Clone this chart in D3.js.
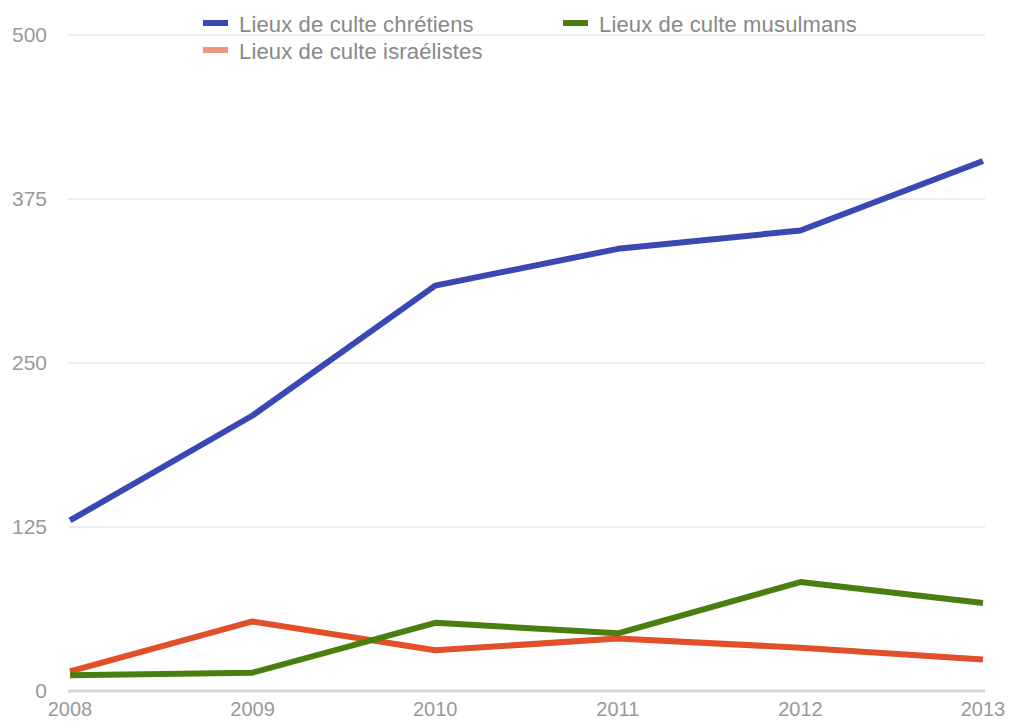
<!DOCTYPE html>
<html>
<head>
<meta charset="utf-8">
<script src="https://cdn.jsdelivr.net/npm/d3@7"></script>
<style>
  body { margin: 0; background: #fff; }
  text { font-family: "Liberation Sans", Arial, sans-serif; }
</style>
</head>
<body>
<div id="chart"></div>
<script>
// Data
const years = ["2008", "2009", "2010", "2011", "2012", "2013"];
const chretiens = [130, 210, 309, 337, 351, 404];
const musulmans = [12, 14, 52, 44, 83, 67];
const israelites = [15, 53, 31, 40, 33, 24];
const yTicks = [0, 125, 250, 375, 500];

const seriesNames = ["Lieux de culte chrétiens", "Lieux de culte musulmans", "Lieux de culte israélistes"];
const seriesColors = ["#3a48b4", "#4a7f10", "#e1502a"];

(function () {
    const width = 1010, height = 723;
    const margin = { top: 35, right: 27, bottom: 32, left: 70 };

    const svg = d3.select("#chart").append("svg")
        .attr("width", width)
        .attr("height", height);

    const x = d3.scalePoint()
        .domain(years)
        .range([margin.left, width - margin.right]);

    const y = d3.scaleLinear()
        .domain([0, 500])
        .range([height - margin.bottom, margin.top]);

    // Gridlines
    svg.append("g")
        .selectAll("line")
        .data(yTicks)
        .enter()
        .append("line")
        .attr("x1", margin.left - 2)
        .attr("x2", width - margin.right + 2)
        .attr("y1", d => y(d))
        .attr("y2", d => y(d))
        .attr("stroke", d => d === 0 ? "#d6d6d6" : "#ececec")
        .attr("stroke-width", d => d === 0 ? 3 : 2);

    // Y axis labels
    svg.append("g")
        .selectAll("text")
        .data(yTicks)
        .enter()
        .append("text")
        .attr("x", 47)
        .attr("y", d => y(d))
        .attr("dy", "0.35em")
        .attr("text-anchor", "end")
        .attr("font-size", 21)
        .attr("fill", "#999")
        .text(d => d);

    // X axis labels
    svg.append("g")
        .selectAll("text")
        .data(years)
        .enter()
        .append("text")
        .attr("x", d => x(d))
        .attr("y", 716)
        .attr("text-anchor", "middle")
        .attr("font-size", 20)
        .attr("fill", "#999")
        .text(d => d);

    const series = [chretiens, musulmans, israelites];

    const line = d3.line()
        .x((d, i) => x(years[i]))
        .y(d => y(d));

    // draw red first, then green, then blue on top
    [2, 1, 0].forEach(k => {
        svg.append("path")
            .datum(series[k])
            .attr("d", line)
            .attr("fill", "none")
            .attr("stroke", seriesColors[k])
            .attr("stroke-width", 6)
            .attr("stroke-linejoin", "round");
    });

    // Legend
    const legendPos = [[203, 23], [563, 23], [203, 50]];
    const legend = svg.append("g")
        .selectAll("g")
        .data(seriesNames)
        .enter()
        .append("g")
        .attr("transform", (d, i) => `translate(${legendPos[i][0]},${legendPos[i][1]})`);

    legend.append("rect")
        .attr("x", 0)
        .attr("y", -3)
        .attr("width", 25)
        .attr("height", 6)
        .attr("fill", (d, i) => seriesColors[i])
        .attr("opacity", (d, i) => i === 2 ? 0.6 : 1);

    legend.append("text")
        .attr("x", 36)
        .attr("y", 1)
        .attr("dy", "0.35em")
        .attr("font-size", 22)
        .attr("letter-spacing", 0.15)
        .attr("fill", "#888")
        .text(d => d);
})();
</script>
</body>
</html>
